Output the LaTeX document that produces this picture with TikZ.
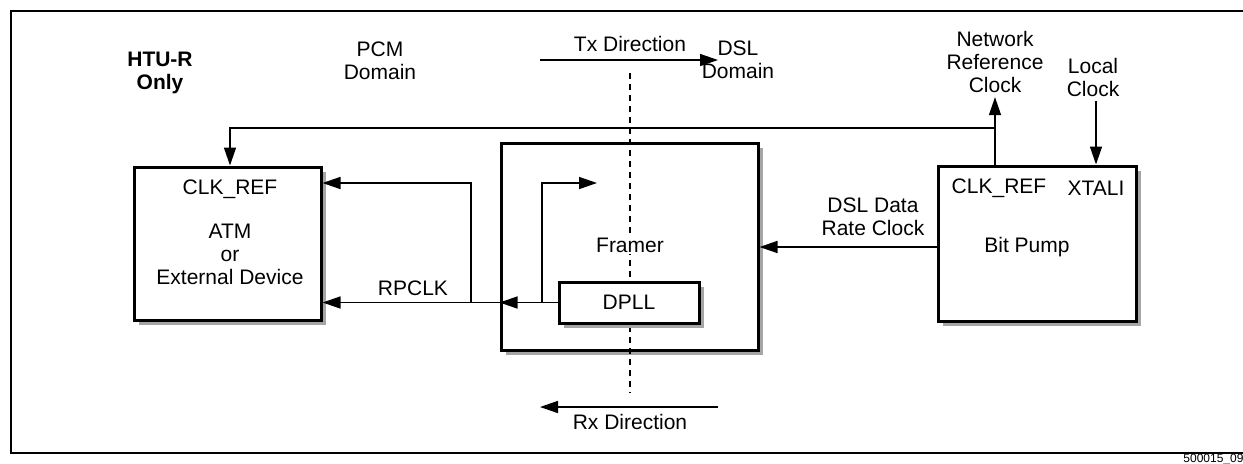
\documentclass[tikz,border=0pt]{standalone}
\usepackage{fontspec}
\setmainfont{Liberation Sans}
\usetikzlibrary{arrows.meta,shadows,positioning}
\definecolor{ShadeGray}{RGB}{165,165,165}
\tikzset{
  blk/.style={draw,line width=1.5pt,fill=white,
    drop shadow={shadow xshift=2.5pt,shadow yshift=-2.5pt,fill=ShadeGray,opacity=1}},
  sig/.style={line width=0.75pt,-{Triangle[length=9pt,width=6pt]}},
  lbl/.style={align=center,inner sep=2pt},
}

\begin{document}
\begin{tikzpicture}[x=0.5pt,y=-0.5pt,font=\fontsize{10.5}{11.5}\selectfont]
  \useasboundingbox (0,0) rectangle (1243,463);
  % outer frame, cut at the right
  \draw[line width=0.8pt] (1270,11) -- (11,11) -- (11,453) -- (1270,453);
  \node[anchor=north west,inner sep=0pt,font=\fontsize{6}{7}\selectfont] (fignum) at (1183,454) {500015\_099};

  % headings
  \node[lbl,font=\fontsize{10.5}{11.5}\selectfont\bfseries] (htu) at (160,73) {HTU-R\\Only};
  \node[lbl] (pcm) at (380,61) {PCM\\Domain};
  \node[lbl] (dsl) at (738,60) {DSL\\Domain};
  \node[lbl] (txlbl) at (630,44) {Tx Direction};
  \node[lbl] (rxlbl) at (630,422) {Rx Direction};
  \node[lbl] (nrclk) at (995,62) {Network\\Reference\\Clock};
  \node[lbl] (lclk) at (1093,77) {Local\\Clock};

  \coordinate (txa) at (540,60);
  \coordinate (txb) at (718,60);
  \coordinate (rxa) at (718,407);
  \coordinate (rxb) at (540,407);
  \draw[sig] (txa) -- (txb);
  \draw[sig] (rxa) -- (rxb);

  % blocks
  \node[blk,minimum width=93.5pt,minimum height=76.5pt] (atm) at (227.5,243.5) {};
  \node[blk,minimum width=128.5pt,minimum height=103.5pt] (framer) at (629.5,246.5) {};
  \node[blk,minimum width=99pt,minimum height=77.5pt] (bitpump) at (1037,243.5) {};

  % domain border
  \coordinate (dtop) at (630,73);
  \coordinate (dbot) at (630,393);
  \draw[line width=0.75pt,dash pattern=on 3pt off 2.5pt] (dtop) -- (dbot);

  \node[blk,minimum width=70pt,minimum height=20.5pt] (dpll) at (629,302.5) {DPLL};
  \node[lbl,fill=white,inner sep=1pt] (frlbl) at (630,245) {Framer};

  % texts inside the blocks
  \node[lbl] (atmref) at (230,189) {CLK\_REF};
  \node[lbl] (atmname) at (230,254) {ATM\\or\\External Device};
  \node[lbl] (bpref) at (999,188) {CLK\_REF};
  \node[lbl] (bpxtal) at (1096,188) {XTALI};
  \node[lbl] (bpname) at (1027,247) {Bit Pump};
  \node[lbl] (dslclk) at (873,217) {DSL Data\\Rate Clock};
  \node[lbl] (rpclk) at (413,288) {RPCLK};

  % clocks
  \draw[sig] (bitpump.west |- bpname) -- (framer.east |- bpname);
  \draw[sig] (dpll.west) -- (framer.west |- dpll.west);
  \coordinate (fbr) at (542,302.5);
  \coordinate (fout) at (597,183);
  \draw[sig] (fbr) |- (fout);
  \draw[sig] (framer.west |- dpll.west) -- (atm.east |- dpll.west);
  \coordinate (rbr) at (471,302.5);
  \draw[sig] (rbr) |- (atm.east |- fout);

  \coordinate (tap) at (995,128);
  \draw[sig] (bitpump.north -| tap) -- (nrclk.south);
  \draw[sig] (tap) -| (atmref |- atm.north);
  \draw[sig] (lclk.south -| bpxtal) -- (bitpump.north -| bpxtal);
\end{tikzpicture}
\end{document}
